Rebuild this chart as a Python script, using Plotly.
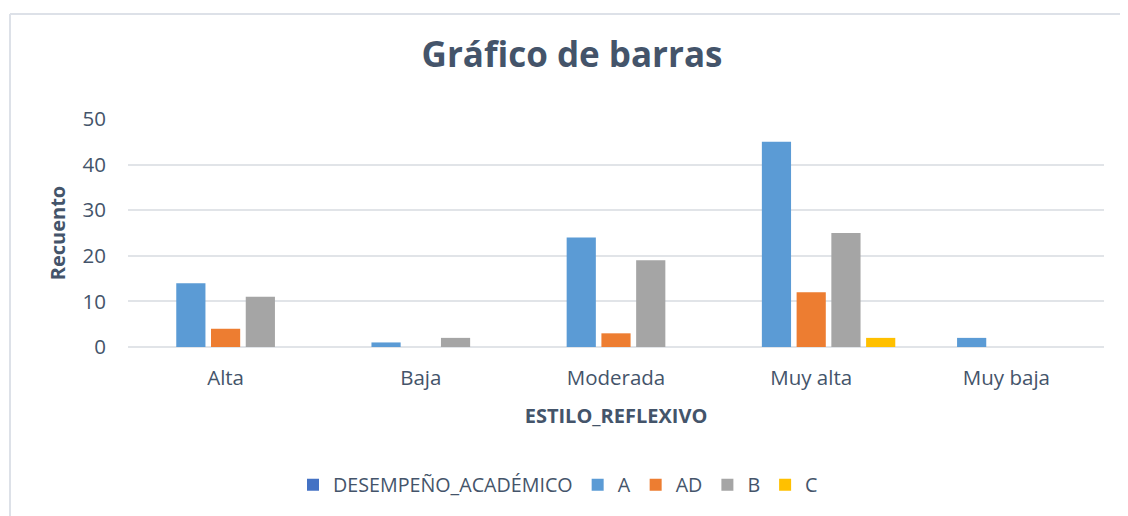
import plotly.graph_objects as go

categories = ["Alta", "Baja", "Moderada", "Muy alta", "Muy baja"]
series_names = ["DESEMPEÑO_ACADÉMICO", "A", "AD", "B", "C"]
vals_desempeno = [0, 0, 0, 0, 0]
vals_A = [14, 1, 24, 45, 2]
vals_AD = [4, 0, 3, 12, 0]
vals_B = [11, 2, 19, 25, 0]
vals_C = [0, 0, 0, 2, 0]
y_ticks = [0, 10, 20, 30, 40, 50]

colors = ["#4472C4", "#5B9BD5", "#ED7D31", "#A5A5A5", "#FFC000"]
series_vals = [vals_desempeno, vals_A, vals_AD, vals_B, vals_C]

TXT = "#44546A"
FONT = "Open Sans"
GRID = "#E1E4E8"

fig = go.Figure()
for name, vals, col in zip(series_names, series_vals, colors):
    fig.add_trace(go.Bar(x=categories, y=vals, name=name,
                         marker=dict(color=col, line=dict(width=0))))

# page has an 8px body margin; figure coords = page coords - 8
W, H = 1120, 508
L, R, T, B = 120, 24, 111, 169
pw = W - L - R
ph = H - T - B

fig.update_layout(
    width=W, height=H,
    margin=dict(l=L, r=R, t=T, b=B, pad=0),
    paper_bgcolor="white", plot_bgcolor="white",
    barmode="group", bargap=0.11, bargroupgap=0.16,
    font=dict(family=FONT, color=TXT, size=20),
    title=dict(text="<b>Gráfico de barras</b>", x=(564 - L) / pw, xref="paper",
               xanchor="center", y=1 - 47 / H, yanchor="middle",
               font=dict(size=35, color=TXT, family=FONT)),
    showlegend=True,
    legend=dict(orientation="h", x=(550 - L) / pw, xanchor="center",
                y=(ph - (477 - T)) / ph, yanchor="middle",
                font=dict(size=19.7, color=TXT, family=FONT),
                itemwidth=30, tracegroupgap=0, traceorder="normal",
                bgcolor="rgba(0,0,0,0)"),
    xaxis=dict(title=dict(text="<b>ESTILO_REFLEXIVO</b>", standoff=19,
                          font=dict(size=20, color=TXT, family=FONT)),
               tickfont=dict(size=20.5, color=TXT, family=FONT),
               showgrid=False, showline=False, ticks="", ticklen=0,
               ticklabelstandoff=16),
    yaxis=dict(title=dict(text="<b>Recuento</b>", standoff=11,
                          font=dict(size=20, color=TXT, family=FONT)),
               range=[0, 50], tickvals=y_ticks, ticks="",
               tickfont=dict(size=20.5, color=TXT, family=FONT),
               showgrid=True, gridcolor=GRID, gridwidth=2,
               zeroline=True, zerolinecolor=GRID, zerolinewidth=2,
               showline=False, ticklabelstandoff=21),
    shapes=[
        dict(type="line", xref="paper", yref="paper",
             x0=(2 - L) / pw, x1=(W - L) / pw, y0=1 + (T - 6) / ph, y1=1 + (T - 6) / ph,
             line=dict(color="#DDE1E8", width=2)),
        dict(type="line", xref="paper", yref="paper",
             x0=(2 - L) / pw, x1=(2 - L) / pw, y0=1 + (T - 6) / ph, y1=-(B) / ph,
             line=dict(color="#DDE1E8", width=2)),
    ],
)

fig.write_html("out.html")
